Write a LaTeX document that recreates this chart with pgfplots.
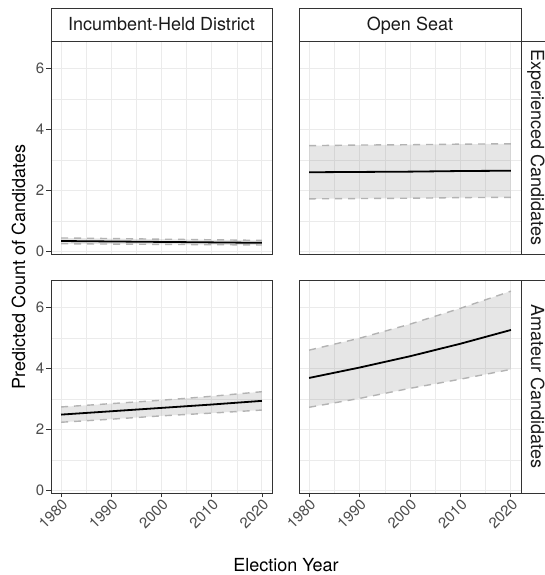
\documentclass[border=0pt]{standalone}
\usepackage{fontspec}
\setmainfont{TeX Gyre Heros}
\usepackage{pgfplots}
\usepackage{pgfplotstable}
\pgfplotsset{compat=1.18}
\usepgfplotslibrary{fillbetween}

\definecolor{grey10}{HTML}{1A1A1A}
\definecolor{grey20}{HTML}{333333}
\definecolor{grey30}{HTML}{4D4D4D}
\definecolor{grey70}{HTML}{B3B3B3}
\definecolor{grey92}{HTML}{EBEBEB}

% predicted counts with 95% bounds
\pgfplotstableread{
year mean upper lower
1980 0.35 0.45 0.26
1990 0.335 0.43 0.25
2000 0.32 0.41 0.24
2010 0.305 0.39 0.23
2020 0.29 0.37 0.22
}\incexp
\pgfplotstableread{
year mean upper lower
1980 2.60 3.47 1.73
1990 2.61 3.49 1.74
2000 2.62 3.50 1.75
2010 2.64 3.52 1.77
2020 2.65 3.53 1.78
}\openexp
\pgfplotstableread{
year mean upper lower
1980 2.49 2.74 2.24
1990 2.60 2.85 2.34
2000 2.71 2.96 2.45
2010 2.82 3.09 2.54
2020 2.94 3.24 2.64
}\incama
\pgfplotstableread{
year mean upper lower
1980 3.69 4.60 2.73
1990 4.03 4.99 3.02
2000 4.40 5.45 3.35
2010 4.81 5.97 3.65
2020 5.26 6.53 3.97
}\openama

\pgfplotsset{
  panel/.style={
    scale only axis, height=213pt, anchor=south west,
    xmin=1978, xmax=2022, ymin=-0.075, ymax=6.895,
    xtick={1980,1990,2000,2010,2020}, ytick={0,2,4,6},
    minor xtick={1985,1995,2005,2015}, minor ytick={1,3,5},
    grid=both,
    major grid style={draw=grey92, line width=1pt},
    minor grid style={draw=grey92, line width=0.5pt},
    axis line style={draw=grey20, line width=0.9pt},
    tick align=outside, major tick length=4.5pt, minor tick length=0pt,
    tick style={draw=grey20, line width=0.9pt},
    xtick pos=left, ytick pos=left,
    ticklabel style={font=\fontsize{15}{15}\selectfont, text=grey30},
    xticklabel style={rotate=45, anchor=north east, inner sep=0.5pt},
    yticklabel style={inner sep=2pt},
    /pgf/number format/assume math mode=true,
    /pgf/number format/1000 sep={},
  },
  noxticks/.style={xticklabels={}, xtick style={draw=none}},
  noyticks/.style={yticklabels={}, ytick style={draw=none}},
}

\newcommand{\band}[1]{%
  \addplot[name path=up, grey70, line width=1.4pt, dash pattern=on 7pt off 6pt] table[x=year, y=upper] {#1};
  \addplot[name path=lo, grey70, line width=1.4pt, dash pattern=on 7pt off 6pt] table[x=year, y=lower] {#1};
  \addplot[fill=gray, fill opacity=0.2, draw=none] fill between[of=up and lo];
  \addplot[black, line width=1.8pt] table[x=year, y=mean] {#1};
}

\begin{document}
\begin{tikzpicture}

% top row: experienced candidates
\begin{axis}[panel, at={(51pt,321pt)}, width=221pt, noxticks]
  \band{\incexp}
\end{axis}
\begin{axis}[panel, at={(299pt,321pt)}, width=222pt, noxticks, noyticks]
  \band{\openexp}
\end{axis}

% bottom row: amateur candidates
\begin{axis}[panel, at={(51pt,82pt)}, width=221pt]
  \band{\incama}
\end{axis}
\begin{axis}[panel, at={(299pt,82pt)}, width=222pt, noyticks]
  \band{\openama}
\end{axis}

% facet strips
\begin{scope}[draw=grey20, line width=0.9pt]
  \draw[fill=white] (51pt,534pt) rectangle (272pt,567pt);
  \draw[fill=white] (299pt,534pt) rectangle (521pt,567pt);
  \draw[fill=white] (521pt,321pt) rectangle (554pt,534pt);
  \draw[fill=white] (521pt,82pt) rectangle (554pt,295pt);
\end{scope}
\begin{scope}[every node/.style={inner sep=0pt, text=grey10, font=\fontsize{18}{18}\selectfont}]
  \node[anchor=base] at (161.5pt,544pt) {Incumbent-Held District};
  \node[anchor=base] at (410pt,544pt) {Open Seat};
  \node[anchor=base, rotate=-90] at (531pt,427.5pt) {Experienced Candidates};
  \node[anchor=base, rotate=-90] at (531pt,188.5pt) {Amateur Candidates};
\end{scope}

% axis titles
\node[anchor=base, rotate=90, inner sep=0pt, font=\fontsize{18}{18}\selectfont] at (25pt,308pt) {Predicted Count of Candidates};
\node[anchor=base, inner sep=0pt, font=\fontsize{18}{18}\selectfont] at (286pt,4pt) {Election Year};

% page frame
\pgfresetboundingbox
\useasboundingbox (0pt,0pt) rectangle (544pt,575pt);
\end{tikzpicture}
\end{document}
